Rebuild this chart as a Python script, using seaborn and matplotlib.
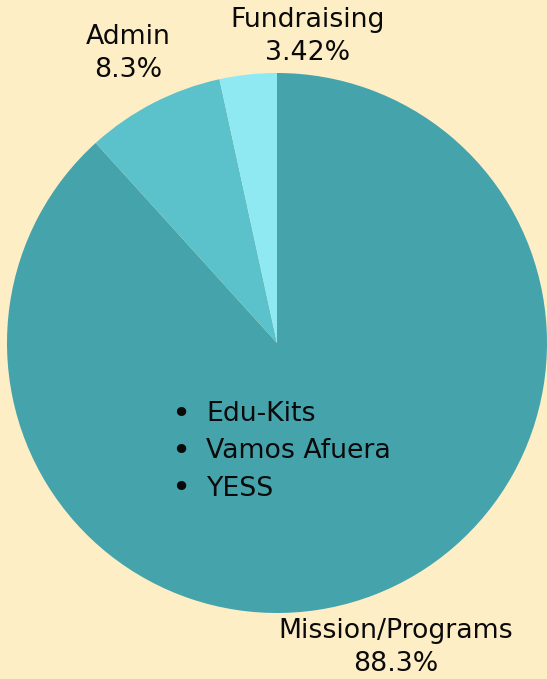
import matplotlib
matplotlib.use('Agg')
import matplotlib.pyplot as plt
import seaborn as sns

# data
categories = ['Mission/Programs', 'Admin', 'Fundraising']
shares = [88.3, 8.3, 3.42]
share_labels = ['88.3%', '8.3%', '3.42%']
programs = ['Edu-Kits', 'Vamos Afuera', 'YESS']

bg = '#FDEEC6'
colors = ['#45A3AC', '#5BC1CB', '#8FE9F3']

sns.set_theme(style='white', rc={'figure.facecolor': bg, 'axes.facecolor': bg})
plt.rcParams['font.family'] = ['DejaVu Sans']

W, H = 547, 679
fs = 19.3
fig = plt.figure(figsize=(W / 100, H / 100), dpi=100)
cx, cy, r = 277, 343, 270
ax = fig.add_axes([(cx - r) / W, (H - cy - r) / H, 2 * r / W, 2 * r / H])
ax.pie(shares, colors=colors, startangle=90, counterclock=False,
       wedgeprops=dict(linewidth=0))
ax.set_xlim(-1, 1)
ax.set_ylim(-1, 1)
ax.axis('off')

def ftxt(x, y, s, **kw):
    fig.text(x / W, 1 - y / H, s, ha='center', va='center', fontsize=fs,
             color='#0a0a0a', **kw)

# labels (pixel positions from top-left)
pos = {'Mission/Programs': (396, 631, 664), 'Admin': (128, 37, 70),
       'Fundraising': (308, 20, 53)}
for cat, lab in zip(categories, share_labels):
    x, y1, y2 = pos[cat]
    ftxt(x, y1, cat)
    ftxt(x, y2, lab)

for i, p in enumerate(programs):
    y = 414 + i * 37.5
    fig.text(181 / W, 1 - y / H, '\u2022', ha='center', va='center', fontsize=fs + 4,
             color='#0a0a0a')
    fig.text(206 / W, 1 - y / H, p, ha='left', va='center', fontsize=fs,
             color='#0a0a0a')

fig.savefig('out.png', dpi=100, facecolor=bg)
